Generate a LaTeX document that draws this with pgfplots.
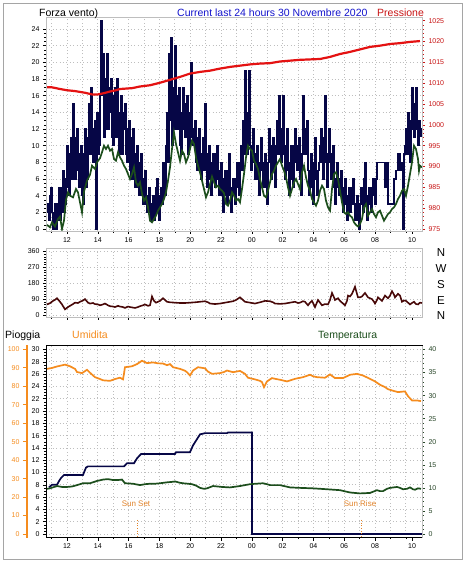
\documentclass[border=0pt]{standalone}
\usepackage{fontspec}
\setmainfont{Liberation Sans}
\usepackage{pgfplots}
\pgfplotsset{compat=1.18}
\definecolor{navy}{RGB}{6,6,70}
\definecolor{dgreen}{RGB}{28,78,28}
\definecolor{pred}{RGB}{228,18,18}
\definecolor{tred}{RGB}{200,20,20}
\definecolor{tblue}{RGB}{20,20,205}
\definecolor{maroon}{RGB}{72,8,8}
\definecolor{horange}{RGB}{245,140,30}
\definecolor{sunc}{RGB}{225,130,40}
\definecolor{gridc}{RGB}{190,190,190}
\definecolor{framec}{RGB}{165,165,165}
\definecolor{tgreen}{RGB}{40,70,40}
\pgfplotsset{
  base/.style={scale only axis, width=376pt, xmin=46, xmax=422,
    anchor=south west,
    axis line style={gridc},
    tick label style={font=\fontsize{7}{8}\selectfont},
    /pgf/number format/assume math mode=true,
    /pgf/number format/1000 sep={},
    tick align=outside, major tick length=3pt, minor tick length=1.6pt,
    every tick/.style={black, line width=0.5pt},
    grid style={draw=gridc, dash pattern=on 0.8pt off 2.6pt, line width=0.7pt},
    minor grid style={draw=gridc, dash pattern=on 0.8pt off 2.6pt, line width=0.7pt},
    xtick={67,97.8,128.6,159.4,190.2,221,251.8,282.6,313.4,344.2,375,412},
    xticklabels={12,14,16,18,20,22,00,02,04,06,08,10},
    minor xtick={51.6,67,82.4,97.8,113.2,128.6,144,159.4,174.8,190.2,205.6,221,236.4,251.8,267.2,282.6,298,313.4,328.8,344.2,359.6,375,390.4,405.8},
    xmajorgrids=false, xminorgrids=true, ymajorgrids=true,
    tick pos=left,
  },
  over/.style={scale only axis, width=376pt, xmin=46, xmax=422,
    anchor=south west,
    tick label style={font=\fontsize{7}{8}\selectfont},
    /pgf/number format/assume math mode=true,
    /pgf/number format/1000 sep={},
    tick align=outside, major tick length=3pt, minor tick length=1.6pt,
    axis x line=none,
  },
}
\begin{document}
\begin{tikzpicture}[x=1pt,y=1pt]
\fill[white] (0,0) rectangle (466,566);
\draw[framec, line width=0.8pt] (3.5,6.5) rectangle (462.5,562.5);

% ---------- top panel: wind ----------
\begin{axis}[base, at={(46pt,335pt)}, height=214pt,
  ymin=-0.24, ymax=25.44, ytick={0,2,...,24}, minor y tick num=3]
\addplot[navy, line width=1.3pt, const plot] coordinates {
(47,3)(48,2)(49,1)(50,4)(51,5)(52,2)(53,0)(54,2)(55,3)(56,0)(57,1)(58,3)(59,5)(60,1)(61,2)(62,5)(63,7)(64,2)(65,3)(66,6)(67,10)(68,5)(69,4)(70,9)(71,11)(72,6)(73,15)(74,8)(75,6)(76,11)(77,12)(78,7)(79,5)(80,9)(81,10)(82,4)(83,3)(84,9)(85,12)(86,5)(87,6)(88,11)(89,15)(90,9)(91,17)(92,11)(93,8)(94,12)(95,13)(96,0)(97,14)(98,9)(99,10)(100,16)(101,25)(102,16)(103,21)(104,11)(105,12)(106,18)(107,21)(108,12)(109,14)(110,17)(111,18)(112,11)(113,10)(114,16)(115,17)(116,11)(117,18)(118,13)(119,9)(120,14)(121,16)(122,9)(123,12)(124,14)(125,15)(126,9)(127,8)(128,12)(129,13)(130,7)(131,6)(132,11)(133,12)(134,6)(135,5)(136,9)(137,10)(138,5)(139,4)(140,8)(141,9)(142,4)(143,3)(144,6)(145,7)(146,3)(147,2)(148,4)(149,5)(150,2)(151,1)(152,3)(153,4)(154,1)(155,2)(156,5)(157,6)(158,2)(159,1)(160,4)(161,5)(162,3)(163,8)(164,5)(165,4)(166,10)(167,14)(168,8)(169,21)(170,13)(171,23)(172,10)(173,17)(174,12)(175,22)(176,14)(177,12)(178,16)(179,17)(180,10)(181,9)(182,14)(183,17)(184,12)(185,11)(186,15)(187,16)(188,9)(189,10)(190,14)(191,20)(192,11)(193,10)(194,12)(195,13)(196,8)(197,7)(198,11)(199,12)(200,7)(201,6)(202,9)(203,11)(204,7)(205,15)(206,8)(207,5)(208,9)(209,10)(210,6)(211,4)(212,8)(213,9)(214,6)(215,5)(216,9)(217,10)(218,6)(219,4)(220,7)(221,8)(222,4)(223,2)(224,6)(225,7)(226,4)(227,3)(228,7)(229,9)(230,4)(231,2)(232,5)(233,6)(234,4)(235,3)(236,6)(237,8)(238,5)(239,4)(240,8)(241,10)(242,7)(243,13)(244,9)(245,19)(246,12)(247,9)(248,14)(249,19)(250,10)(251,7)(252,10)(253,12)(254,8)(255,6)(256,9)(257,10)(258,6)(259,4)(260,8)(261,11)(262,7)(263,5)(264,8)(265,9)(266,5)(267,3)(268,8)(269,12)(270,8)(271,6)(272,10)(273,11)(274,7)(275,5)(276,10)(277,13)(278,9)(279,16)(280,11)(281,8)(282,12)(283,16)(284,9)(285,6)(286,10)(287,12)(288,7)(289,4)(290,8)(291,10)(292,6)(293,5)(294,10)(295,12)(296,8)(297,7)(298,10)(299,11)(300,6)(301,4)(302,9)(303,16)(304,11)(305,9)(306,12)(307,13)(308,7)(309,4)(310,7)(311,9)(312,5)(313,3)(314,8)(315,11)(316,6)(317,4)(318,7)(319,8)(320,10)(321,12)(322,8)(323,6)(324,11)(325,16)(326,8)(327,5)(328,9)(329,12)(330,8)(331,6)(332,9)(333,10)(334,5)(335,3)(336,6)(337,8)(338,5)(339,4)(340,6)(341,7)(342,4)(343,2)(344,5)(345,6)(346,3)(347,1)(348,4)(349,5)(350,2)(351,3)(352,5)(353,6)(354,3)(355,1)(356,3)(357,4)(358,1)(359,0)(360,3)(361,5)(362,3)(363,2)(364,6)(365,8)(366,3)(367,1)(368,4)(369,5)(370,3)(371,2)(372,5)(373,6)(374,4)(375,3)(376,6)(377,8)(385,5)(386,8)(388,3)(394,6)(396,7)(398,9)(400,7)(402,8)(403,0)(404,9)(405,10)(406,12)(407,9)(408,14)(409,11)(410,8)(411,13)(412,17)(413,12)(414,11)(415,15)(416,17)(417,12)(418,10)(419,13)(420,12)(421,11)};
\addplot[dgreen, line width=1.7pt] coordinates {
(47,0.5)(50,0.2)(52,0.8)(55,0.3)(58,1.2)(60,1.5)(62,0)(64,1)(66,3.5)(68,4.4)(70,4.0)(73,3.8)(76,4.8)(78,4.4)(80,3.2)(82,2)(84,4.5)(87,5.8)(90,6.5)(92,7.6)(95,7.2)(97,8)(100,8.5)(102,9.2)(104,10)(106,9.6)(108,10)(110,9.4)(112,9.6)(114,8.4)(116,8.2)(118,9.2)(120,8.6)(122,8.2)(124,7.6)(126,7.2)(128,6.6)(130,6.0)(132,6.6)(134,7.4)(136,5.6)(138,5.2)(140,5.6)(142,4.2)(144,3.4)(146,3.8)(148,2.6)(150,1.0)(152,0.8)(154,1.2)(156,1.6)(158,2.2)(160,2.6)(162,3.0)(164,3.6)(166,4.4)(168,5.8)(170,7.4)(172,9.6)(174,11.6)(176,10.2)(178,9.2)(180,8.2)(182,9.4)(184,9.0)(186,8.0)(188,8.6)(190,9.6)(192,10.6)(194,10.2)(196,8.6)(198,7.6)(200,6.8)(202,5.8)(204,4.8)(206,3.8)(208,4.4)(210,5.4)(212,6.3)(214,5.6)(216,5.0)(218,5.2)(220,4.8)(222,4.6)(224,4.3)(226,3.0)(228,2.8)(230,3.4)(232,4.4)(234,4.0)(236,3.4)(238,3.6)(240,3.2)(242,4.8)(244,6.6)(246,8.6)(248,10.0)(250,9.6)(252,9.4)(254,8.2)(256,7.8)(258,7.2)(260,6.0)(262,5.0)(264,4.0)(266,3.8)(268,4.6)(270,5.6)(272,6.6)(274,7.0)(276,7.6)(278,8.0)(280,8.4)(282,7.6)(284,7.0)(286,6.2)(288,5.0)(290,4.0)(292,4.8)(294,5.6)(296,6.0)(298,5.4)(300,4.8)(302,6.8)(304,7.6)(306,6.2)(308,5.2)(310,4.6)(312,3.6)(314,3.2)(316,2.8)(318,3.4)(320,4.6)(322,5.2)(324,4.8)(326,3.4)(328,2.6)(330,2.2)(332,4.8)(334,6.6)(336,6.8)(338,6.0)(340,4.6)(342,3.2)(344,2.0)(346,1.8)(348,2.0)(350,1.6)(352,1.4)(354,0.8)(356,0.5)(358,0.3)(360,0.6)(362,1.2)(364,2.6)(366,3.0)(368,1.6)(370,2.0)(372,2.4)(374,1.8)(376,1.4)(378,2.0)(380,2.2)(382,1.6)(384,1.0)(386,1.4)(388,1.8)(390,2.0)(392,2.4)(394,2.6)(396,3.0)(398,3.6)(400,4.0)(402,4.6)(404,4.8)(406,4.0)(408,5.2)(410,6.6)(412,8.0)(414,10.0)(416,9.6)(418,8.4)(419,7.0)(420,7.6)(422,7.4)};
\end{axis}
\begin{axis}[over, at={(46pt,335pt)}, height=214pt,
  ymin=974.52, ymax=1025.88, ytick={975,980,...,1025}, minor y tick num=4,
  axis y line*=right, y axis line style={-, gridc},
  every tick/.style={tred, line width=0.5pt},
  yticklabel style={tred}]
\addplot[pred, line width=2.2pt] coordinates {
(47,1009)(52,1009)(56,1008.8)(60,1008.6)(67,1008.3)(75,1008.1)(85,1007.7)(92,1007.3)(98,1007.3)(104,1007.6)(110,1008)(116,1008.3)(120,1008.6)(126,1008.7)(132,1008.8)(140,1009.2)(150,1009.5)(160,1010.1)(170,1010.8)(180,1011.5)(190,1012.3)(200,1012.7)(210,1013)(220,1013.5)(230,1013.9)(240,1014.2)(250,1014.5)(260,1014.7)(270,1014.8)(280,1015.2)(290,1015.4)(300,1015.6)(310,1015.7)(320,1015.8)(330,1016.3)(340,1017)(350,1017.5)(360,1018.1)(370,1018.7)(380,1019)(390,1019.4)(400,1019.6)(410,1019.9)(420,1020.1)};
\end{axis}

% ---------- middle panel: direction ----------
\begin{axis}[base, at={(46pt,249pt)}, height=68.5pt,
  ymin=-11.34, ymax=377, ytick={0,90,180,270,360}, minor y tick num=5,
  xticklabels={}]
\addplot[maroon, line width=1.6pt] coordinates {
(47,60)(50,67)(53,80)(55,86)(57,95)(60,75)(62,60)(65,32)(68,45)(70,52)(73,62)(75,70)(78,68)(80,75)(83,82)(85,90)(88,70)(90,65)(93,68)(95,62)(98,60)(100,55)(103,60)(105,65)(108,55)(110,50)(113,48)(115,45)(118,52)(120,48)(123,45)(125,40)(128,48)(130,45)(133,42)(135,40)(138,45)(140,50)(143,55)(145,60)(148,52)(150,55)(152,105)(154,80)(156,70)(158,75)(160,80)(163,95)(165,85)(167,75)(170,72)(175,70)(180,68)(185,68)(190,70)(195,72)(200,75)(205,78)(208,72)(210,65)(215,62)(220,65)(225,70)(230,75)(233,78)(236,85)(240,100)(243,85)(245,75)(250,70)(255,65)(260,72)(265,80)(270,78)(273,72)(275,65)(280,63)(285,65)(290,70)(295,75)(298,68)(300,70)(303,78)(305,75)(308,55)(310,70)(312,80)(315,45)(318,85)(320,70)(322,55)(325,62)(328,60)(330,85)(332,125)(334,100)(335,85)(338,95)(340,80)(342,70)(345,55)(347,80)(348,110)(350,105)(352,120)(355,160)(357,120)(358,100)(360,100)(362,105)(365,125)(368,100)(370,95)(372,90)(374,75)(375,65)(377,85)(378,100)(380,90)(382,80)(385,110)(387,100)(388,95)(390,110)(392,135)(394,115)(395,100)(398,120)(400,110)(402,75)(404,82)(406,80)(408,70)(410,60)(412,68)(414,75)(416,62)(418,60)(420,70)(422,68)};
\end{axis}
\begin{axis}[over, at={(46pt,249pt)}, height=68.5pt,
  ymin=-11.34, ymax=377, ytick={0,90,180,270,360}, yticklabels={N,E,S,W,N},
  axis y line*=right, y axis line style={draw=none}, major tick length=0pt,
  yticklabel style={font=\fontsize{11.5}{12}\selectfont, anchor=center, xshift=19pt, yshift=-1pt}]
\addplot[draw=none] coordinates {(46,0)(422,0)};
\end{axis}

% ---------- bottom panel: rain / humidity / temperature ----------
\begin{axis}[base, at={(46pt,28.5pt)}, height=192pt,
  ymin=-0.569, ymax=30.65, ytick={0,2,...,30}, minor y tick num=3,
  y axis line style={black}]
\addplot[navy, line width=1.7pt] coordinates {
(49,7.6)(52,8)(57,8)(59,8.6)(61,9.1)(64,9.6)(83,9.6)(86,10.8)(88,11)(124,11)(127,11.5)(134,11.5)(137,12.3)(141,13)(175,13)(176,13.3)(190,13.3)(193,14.4)(200,16.2)(205,16.4)(227,16.4)(228,16.5)(252,16.5)(252,0)(422,0)};
\addplot[sunc, dotted, line width=0.7pt] coordinates {(137,2.3)(137,-0.569)};
\addplot[sunc, dotted, line width=0.7pt] coordinates {(361.5,2.3)(361.5,-0.569)};
\node[font=\fontsize{8}{9}\selectfont, text=sunc] at (axis cs:136,4.9) {Sun Set};
\node[font=\fontsize{8}{9}\selectfont, text=sunc] at (axis cs:360,4.9) {Sun Rise};
\end{axis}
\begin{axis}[over, at={(46pt,28.5pt)}, height=192pt,
  ymin=-1.897, ymax=102.168, axis y line=none]
\addplot[horange, line width=1.7pt] coordinates {
(47,89.5)(52,90)(57,90.8)(65,91.8)(70,90.9)(75,89.5)(77,87.8)(82,87.2)(87,89)(90,87.4)(95,85)(100,84)(103,83.3)(110,83)(115,84)(120,84.7)(123,83.8)(124,87)(125,90.4)(132,90.9)(137,92.1)(142,93.9)(147,92.6)(153,93)(158,92.5)(163,92.4)(167,91.5)(170,92.1)(173,90.4)(180,89.5)(185,88.5)(187,87.7)(190,85.9)(193,88.6)(198,90.4)(205,89.8)(208,88)(212,86.8)(216,87)(220,87.2)(224,87.8)(227,88.6)(233,87.7)(240,88.4)(245,86.8)(248,84.7)(255,83.8)(260,83)(262,82.3)(264,79.6)(267,82.7)(272,84.5)(276,84)(280,83.6)(287,82.7)(295,84.1)(303,85)(310,86.3)(313,85.5)(317,85)(325,84.7)(330,86.5)(335,84.5)(343,84.5)(350,86.3)(357,86.8)(363,85.9)(370,84.1)(375,82.7)(380,80.9)(385,79.6)(388,78.5)(392,77.8)(398,76.9)(405,77.3)(408,74.7)(412,72.4)(417,72.4)(421,72)};
\end{axis}
\begin{axis}[over, at={(46pt,28.5pt)}, height=192pt,
  ymin=-0.759, ymax=40.867, ytick={0,5,...,40}, minor y tick num=4,
  axis y line*=right, y axis line style={-, gridc},
  every tick/.style={tgreen, line width=0.5pt}, yticklabel style={tgreen}]
\addplot[dgreen, line width=1.7pt] coordinates {
(47,9.8)(50,9.9)(57,10.4)(62,10.2)(67,10.2)(72,10.3)(77,10.6)(83,11)(90,11)(97,11.5)(103,11.8)(108,11.9)(113,11.7)(118,11.7)(122,11.8)(125,11)(133,10.9)(140,10.6)(145,10.8)(150,10.9)(155,10.9)(160,11)(167,11.2)(172,11.3)(175,11.4)(180,11.1)(183,11)(188,10.9)(192,10.8)(196,10.5)(200,10)(204,9.8)(207,9.9)(213,10.4)(222,10.2)(230,10.1)(240,10.4)(250,10.8)(256,10.9)(263,11)(267,10.8)(270,10.6)(280,10.6)(290,10.1)(300,10)(313,9.9)(327,9.7)(340,9.5)(350,9)(360,8.8)(370,8.9)(377,9.5)(380,9.3)(383,9.3)(387,9.8)(390,10)(397,10.2)(400,10)(403,9.7)(407,9.8)(410,10.1)(413,9.7)(415,9.6)(418,9.9)(421,9.8)};
\end{axis}
% humidity scale (outer left)
\begin{axis}[scale only axis, anchor=south west, at={(27pt,28.5pt)}, width=395pt, height=192pt,
  xmin=0, xmax=1, ymin=-1.897, ymax=102.168, ytick={0,10,...,100},
  axis x line=none, axis y line*=left,
  y axis line style={-, horange, line width=1.8pt},
  tick align=outside, major tick length=4pt,
  every tick/.style={horange, line width=1pt},
  tick label style={font=\fontsize{7}{8}\selectfont, text=horange},
  /pgf/number format/assume math mode=true]
\addplot[draw=none] coordinates {(0,0)(1,0)};
\end{axis}

% ---------- texts ----------
\node[anchor=base west, inner sep=0pt, font=\fontsize{10.5}{12}\selectfont] at (39,549.5) {Forza vento)};
\node[anchor=base west, inner sep=0pt, font=\fontsize{10.5}{12}\selectfont, text=tblue] at (177,549.5) {Current last 24 hours 30 Novembre 2020};
\node[anchor=base west, inner sep=0pt, font=\fontsize{10.5}{12}\selectfont, text=tred] at (377,549.5) {Pressione};
\node[anchor=base west, inner sep=0pt, font=\fontsize{10.5}{12}\selectfont] at (5,227.7) {Pioggia};
\node[anchor=base west, inner sep=0pt, font=\fontsize{10.5}{12}\selectfont, text=horange] at (72,227.7) {Umidita};
\node[anchor=base west, inner sep=0pt, font=\fontsize{10.5}{12}\selectfont, text=dgreen] at (318,227.7) {Temperatura};
\pgfresetboundingbox
\useasboundingbox (0,0) rectangle (466,566);
\end{tikzpicture}
\end{document}
